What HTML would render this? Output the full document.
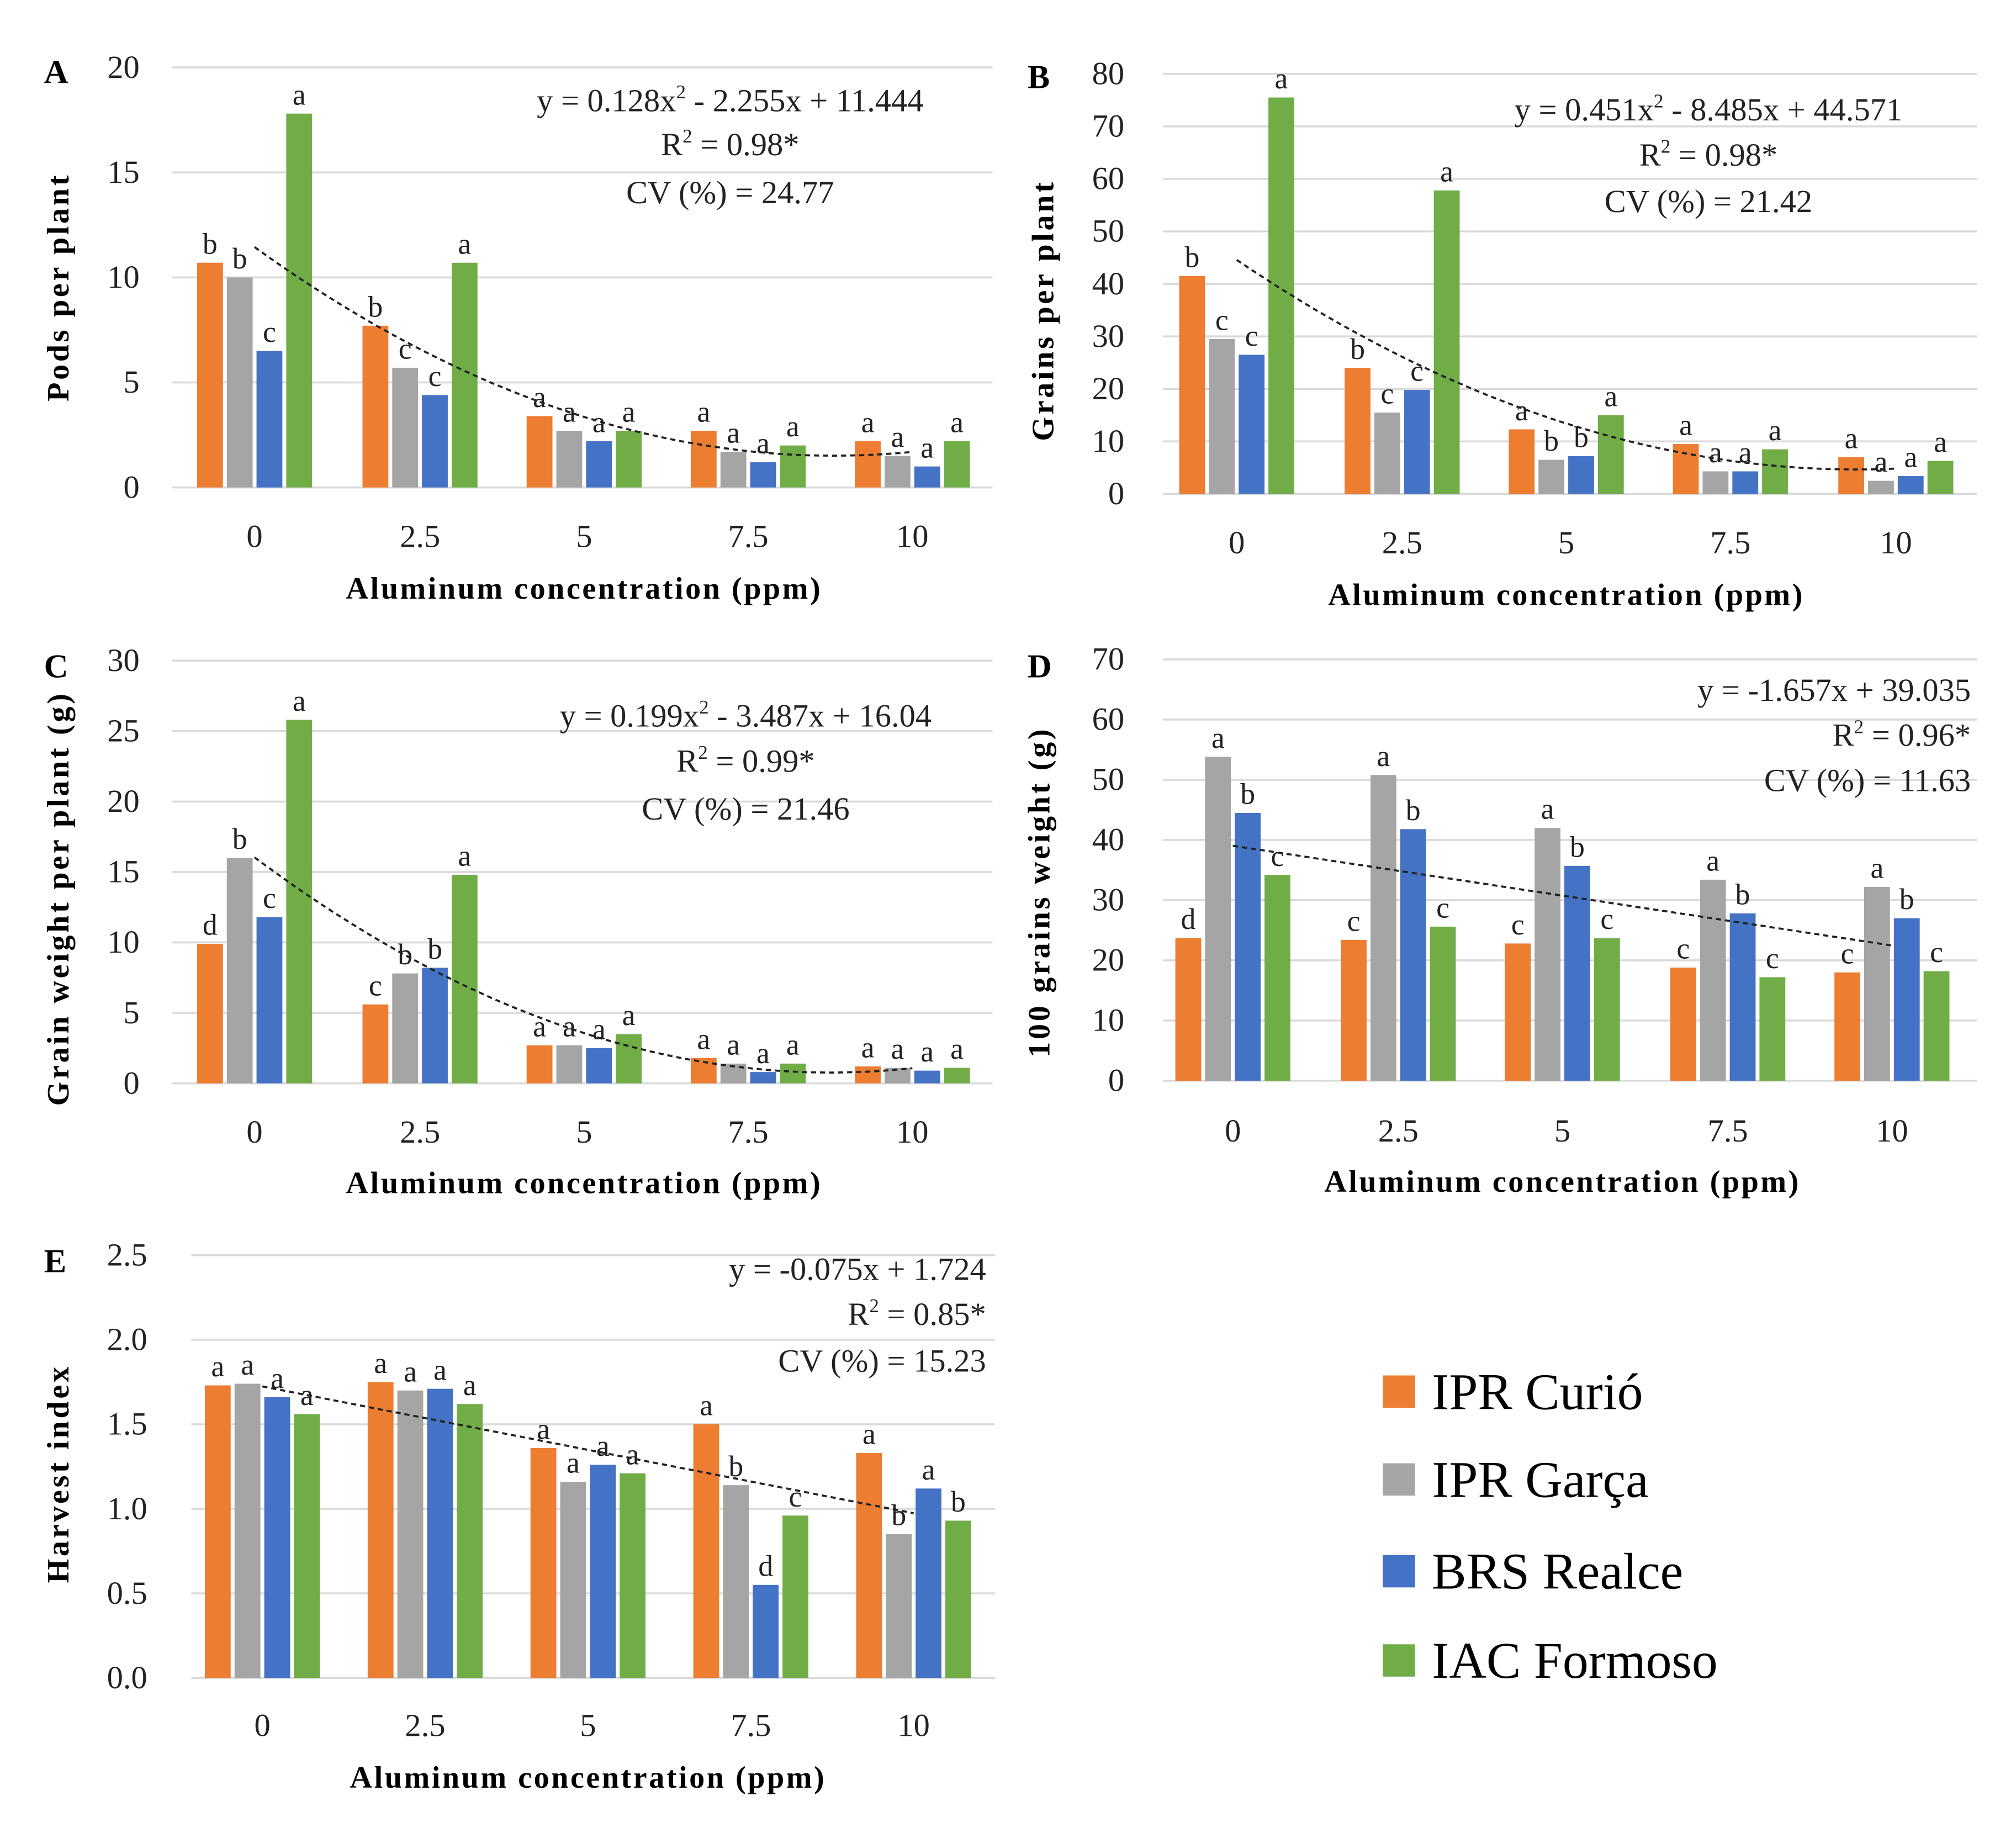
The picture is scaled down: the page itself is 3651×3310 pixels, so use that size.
<!DOCTYPE html>
<html><head><meta charset="utf-8"><style>
html,body{margin:0;padding:0;background:#fff}
svg{display:block;font-family:"Liberation Serif",serif}
</style></head><body>
<svg id="fig" width="3651" height="3310" viewBox="0 0 1560 1414" xmlns="http://www.w3.org/2000/svg">
<rect width="1560" height="1414" fill="#fff"/>
<g>
<rect x="1070" y="1064" width="25" height="25" fill="#ED7D31"/>
<text x="1108" y="1090" font-size="40">IPR Curió</text>
<rect x="1070" y="1132" width="25" height="25" fill="#A5A5A5"/>
<text x="1108" y="1158" font-size="40">IPR Garça</text>
<rect x="1070" y="1203" width="25" height="25" fill="#4472C4"/>
<text x="1108" y="1229" font-size="40">BRS Realce</text>
<rect x="1070" y="1272" width="25" height="25" fill="#70AD47"/>
<text x="1108" y="1298" font-size="40">IAC Formoso</text>
</g>
</svg>
<script>
const categories = ["0","2.5","5","7.5","10"];
const seriesNames = ["IPR Curió","IPR Garça","BRS Realce","IAC Formoso"];
const colors = ["#ED7D31","#A5A5A5","#4472C4","#70AD47"];

const aVals = [[10.7,7.7,3.4,2.7,2.2],[10,5.7,2.7,1.7,1.5],[6.5,4.4,2.2,1.2,1.0],[17.8,10.7,2.7,2.0,2.2]];
const aLetters = [["b","b","a","a","a"],["b","c","a","a","a"],["c","c","a","a","a"],["a","a","a","a","a"]];
const aTicks = [0,5,10,15,20];
const aCoef = [0.128,-2.255,11.444];

const bVals = [[41.5,24,12.3,9.5,7],[29.5,15.5,6.5,4.3,2.5],[26.5,19.8,7.2,4.3,3.4],[75.5,57.8,15,8.5,6.3]];
const bLetters = [["b","b","a","a","a"],["c","c","b","a","a"],["c","c","b","a","a"],["a","a","a","a","a"]];
const bTicks = [0,10,20,30,40,50,60,70,80];
const bCoef = [0.451,-8.485,44.571];

const cVals = [[9.9,5.6,2.7,1.8,1.2],[16,7.8,2.7,1.4,1.1],[11.8,8.2,2.5,0.8,0.9],[25.8,14.8,3.5,1.4,1.1]];
const cLetters = [["d","c","a","a","a"],["b","b","a","a","a"],["c","b","a","a","a"],["a","a","a","a","a"]];
const cTicks = [0,5,10,15,20,25,30];
const cCoef = [0.199,-3.487,16.04];

const dVals = [[23.7,23.4,22.8,18.8,18],[53.8,50.8,42,33.4,32.2],[44.5,41.8,35.7,27.8,27],[34.2,25.6,23.7,17.2,18.2]];
const dLetters = [["d","c","c","c","c"],["a","a","a","a","a"],["b","b","b","b","b"],["c","c","c","c","c"]];
const dTicks = [0,10,20,30,40,50,60,70];
const dCoef = [0,-1.657,39.035];

const eVals = [[1.73,1.75,1.36,1.50,1.33],[1.74,1.70,1.16,1.14,0.85],[1.66,1.71,1.26,0.55,1.12],[1.56,1.62,1.21,0.96,0.93]];
const eLetters = [["a","a","a","a","a"],["a","a","a","b","b"],["a","a","a","d","a"],["a","a","a","c","b"]];
const eTicks = ["0.0","0.5","1.0","1.5","2.0","2.5"];
const eCoef = [0,-0.075,1.724];

const NS="http://www.w3.org/2000/svg";
const svg=document.getElementById("fig");
function mk(tag,attrs,parent,text){const e=document.createElementNS(NS,tag);for(const k in attrs)e.setAttribute(k,attrs[k]);if(text!==undefined)e.textContent=text;parent.appendChild(e);return e;}

function panel(cfg){
  const g=mk("g",{},svg);
  
  
  const tickVals=cfg.ticks.map(Number);
  const ymax=tickVals[tickVals.length-1];
  const yS=v=>cfg.y0-(cfg.y0-cfg.ytop)*v/ymax;
  const step=(cfg.cx[4]-cfg.cx[0])/4;
  const xS=p=>cfg.cx[0]+step*p/2.5;
  cfg.ticks.forEach((t)=>{
    const y=yS(Number(t));
    const l=mk("line",{x1:cfg.gx0,x2:cfg.gx1,y1:y,y2:y,stroke:"#d9d9d9","stroke-width":1.5},g);
    
    
    const tx=mk("text",{x:cfg.tickX,y:y+8,"font-size":25,"text-anchor":"end",fill:"#222"},g,String(t));
    
    
  });
  categories.forEach((c,i)=>{
    const tx=mk("text",{x:cfg.cx[i],y:cfg.tickY,"font-size":25,"text-anchor":"middle",fill:"#222"},g,c);
    
    
  });
  const offs=[-34.5,-11.5,11.5,34.5], bw=20;
  cfg.vals.forEach((ser,s)=>{
    ser.forEach((v,i)=>{
      const x=cfg.cx[i]+offs[s]-bw/2, y=yS(v);
      const r=mk("rect",{x:x,y:y,width:bw,height:cfg.y0-y,fill:colors[s]},g);
      
      
      const t=mk("text",{x:x+bw/2,y:y-7,"font-size":23,"text-anchor":"middle",fill:"#222"},g,cfg.letters[s][i]);
      
      
    });
  });
  let d="";
  for(let k=0;k<=50;k++){const p=k*0.2;const v=cfg.coef[0]*p*p+cfg.coef[1]*p+cfg.coef[2];d+=(k?"L":"M")+xS(p).toFixed(1)+","+yS(v).toFixed(1);}
  const tl=mk("path",{d:d,fill:"none",stroke:"#222","stroke-width":1.6,"stroke-dasharray":"4 3"},g);
  
  
  cfg.eq.forEach((line,i)=>{
    const t=mk("text",{x:cfg.eqX,y:cfg.eqY[i],"font-size":25,"text-anchor":cfg.eqAnchor,fill:"#222"},g);
    
    
    const parts=line.split("^2");
    parts.forEach((p,j)=>{
      if(j>0){ mk("tspan",{"font-size":15,dy:-10},t,"2"); mk("tspan",{dy:10},t,p); }
      else mk("tspan",{},t,p);
    });
  });
  const yt=mk("text",{x:0,y:0,"font-size":24,"font-weight":"bold","text-anchor":"middle","letter-spacing":"2",transform:`translate(${cfg.titleX},${cfg.titleY}) rotate(-90)`},g,cfg.ytitle);
  
  
  const xt=mk("text",{x:cfg.cx[2],y:cfg.xTitleY,"font-size":24,"font-weight":"bold","text-anchor":"middle","letter-spacing":"1.5"},g,"Aluminum  concentration  (ppm)");
  
  
  const pl=mk("text",{x:cfg.letterX,y:cfg.letterY,"font-size":26,"font-weight":"bold"},g,cfg.id);
  
  
}
panel({id:"A",vals:aVals,letters:aLetters,ticks:aTicks,coef:aCoef,y0:377,ytop:52,gx0:133,gx1:768,cx:[197,325,452,579,706],tickX:108,tickY:423,xTitleY:463,titleX:53,titleY:222,ytitle:"Pods  per  plant",letterX:34,letterY:64,eqX:565,eqY:[86,120,157],eqAnchor:"middle",eq:["y = 0.128x^2 - 2.255x + 11.444","R^2 = 0.98*","CV (%) = 24.77"]});
panel({id:"B",vals:bVals,letters:bLetters,ticks:bTicks,coef:bCoef,y0:382,ytop:57,gx0:900,gx1:1530,cx:[957,1085,1212,1339,1467],tickX:870,tickY:428,xTitleY:468,titleX:815,titleY:240,ytitle:"Grains  per  plant",letterX:795,letterY:68,eqX:1322,eqY:[93,128,164],eqAnchor:"middle",eq:["y = 0.451x^2 - 8.485x + 44.571","R^2 = 0.98*","CV (%) = 21.42"]});
panel({id:"C",vals:cVals,letters:cLetters,ticks:cTicks,coef:cCoef,y0:838,ytop:511,gx0:133,gx1:768,cx:[197,325,452,579,706],tickX:108,tickY:884,xTitleY:923,titleX:53,titleY:695,ytitle:"Grain  weight  per plant (g)",letterX:34,letterY:524,eqX:577,eqY:[562,597,634],eqAnchor:"middle",eq:["y = 0.199x^2 - 3.487x + 16.04","R^2 = 0.99*","CV (%) = 21.46"]});
panel({id:"D",vals:dVals,letters:dLetters,ticks:dTicks,coef:dCoef,y0:836,ytop:510,gx0:900,gx1:1530,cx:[954,1082,1209,1337,1464],tickX:870,tickY:883,xTitleY:922,titleX:812,titleY:690,ytitle:"100  grains  weight (g)",letterX:795,letterY:524,eqX:1525,eqY:[542,577,612],eqAnchor:"end",eq:["y = -1.657x + 39.035","R^2 = 0.96*      ","CV (%) = 11.63    "]});
panel({id:"E",vals:eVals,letters:eLetters,ticks:eTicks,coef:eCoef,y0:1298,ytop:971,gx0:148,gx1:770,cx:[203,329,455,581,707],tickX:114,tickY:1343,xTitleY:1383,titleX:53,titleY:1140,ytitle:"Harvest  index",letterX:34,letterY:984,eqX:763,eqY:[990,1025,1061],eqAnchor:"end",eq:["y = -0.075x + 1.724","R^2 = 0.85*      ","CV (%) = 15.23    "]});
</script>
</body></html>
